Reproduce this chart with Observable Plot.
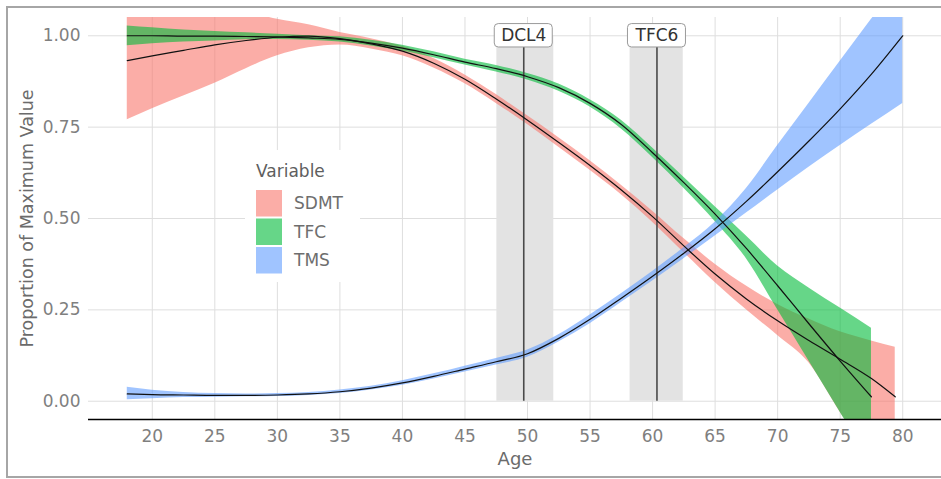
<!DOCTYPE html>
<html>
<head>
<meta charset="utf-8">
<script src="https://cdn.jsdelivr.net/npm/d3@7"></script>
<script src="https://cdn.jsdelivr.net/npm/@observablehq/plot@0.6"></script>
<style>
  body { margin: 0; background: #fff; }
  #wrap { position: relative; width: 941px; height: 479px; overflow: hidden; font-family: "DejaVu Sans", sans-serif; }
  #border { position: absolute; left: 6px; top: 6px; width: 950px; height: 472px; border: 2px solid #a6a6a6; box-sizing: border-box; }
  #wrap svg { position: absolute; left: 0; top: 0; }
</style>
</head>
<body>
<div id="wrap"><div id="border"></div></div>
<script>
// ---- data ----
const variables = ["SDMT", "TFC", "TMS"];
const colors = ["#F8766D", "#00BA38", "#619CFF"];

const sdmtAge = [18,20,22.5,25,27.5,30,32.5,35,37.5,40,42.5,45,47.5,50,52.5,55,57.5,60,62.5,65,67.5,70,72.5,75,77.5,79.4];
const sdmtFit = [0.932,0.945,0.960,0.975,0.987,0.996,0.999,0.992,0.978,0.958,0.925,0.881,0.827,0.769,0.708,0.645,0.578,0.505,0.425,0.348,0.280,0.220,0.166,0.115,0.062,0.012];
const sdmtLo  = [0.770,0.800,0.835,0.870,0.910,0.945,0.967,0.975,0.964,0.945,0.912,0.869,0.815,0.757,0.695,0.632,0.565,0.490,0.407,0.325,0.250,0.180,0.105,-0.030,-0.150,-0.220];
const sdmtHi  = [1.100,1.090,1.080,1.075,1.065,1.045,1.030,1.009,0.992,0.971,0.938,0.893,0.839,0.781,0.721,0.658,0.591,0.520,0.445,0.375,0.315,0.265,0.225,0.190,0.165,0.148];

const tfcAge = [18,20,22.5,25,27.5,30,32.5,35,37.5,40,42.5,45,47.5,50,52.5,55,57.5,60,62.5,65,67.5,70,72.5,75,77.5];
const tfcFit = [1.000,1.000,0.999,0.999,0.998,0.997,0.994,0.990,0.980,0.966,0.948,0.928,0.910,0.888,0.858,0.815,0.757,0.680,0.598,0.512,0.418,0.316,0.212,0.110,0.012];
const tfcLo  = [0.973,0.978,0.983,0.986,0.989,0.990,0.988,0.983,0.972,0.958,0.940,0.920,0.901,0.879,0.848,0.805,0.745,0.667,0.583,0.492,0.390,0.250,0.110,-0.030,-0.170];
const tfcHi  = [1.027,1.022,1.016,1.012,1.008,1.004,1.000,0.997,0.988,0.974,0.956,0.936,0.919,0.897,0.868,0.825,0.769,0.693,0.613,0.532,0.452,0.370,0.310,0.255,0.200];

const tmsAge = [18,20,22.5,25,27.5,30,32.5,35,37.5,40,42.5,45,47.5,50,52.5,55,57.5,60,62.5,65,67.5,70,72.5,75,77.5,80];
const tmsFit = [0.020,0.018,0.017,0.016,0.016,0.017,0.020,0.026,0.036,0.050,0.068,0.088,0.108,0.130,0.172,0.224,0.282,0.342,0.405,0.472,0.547,0.628,0.712,0.800,0.895,1.000];
const tmsLo  = [0.004,0.007,0.010,0.011,0.012,0.013,0.016,0.021,0.031,0.044,0.061,0.080,0.099,0.120,0.162,0.212,0.270,0.329,0.390,0.452,0.515,0.578,0.640,0.700,0.758,0.815];
const tmsHi  = [0.038,0.030,0.024,0.021,0.020,0.021,0.024,0.031,0.041,0.056,0.075,0.096,0.117,0.140,0.182,0.236,0.294,0.355,0.420,0.490,0.582,0.700,0.815,0.930,1.045,1.160];

const refLabels = ["DCL4", "TFC6"];
const refAge    = [49.7, 60.35];
const refLo     = [47.55, 58.2];
const refHi     = [52.1, 62.45];
const refLabelY = [1, 1];

const xTicks = [20,25,30,35,40,45,50,55,60,65,70,75,80];
const yTicks = [0, 0.25, 0.5, 0.75, 1];
const xDomain = [14.9, 83.1];
const yDomain = [-0.05, 1.05];

// ---- build tables ----
const series = [
  {name: "SDMT", age: sdmtAge, fit: sdmtFit, lo: sdmtLo, hi: sdmtHi},
  {name: "TFC",  age: tfcAge,  fit: tfcFit,  lo: tfcLo,  hi: tfcHi},
  {name: "TMS",  age: tmsAge,  fit: tmsFit,  lo: tmsLo,  hi: tmsHi}
];
const rows = series.flatMap(s => s.age.map((a, i) => ({variable: s.name, age: a, fit: s.fit[i], lo: s.lo[i], hi: s.hi[i]})));
const refs = refLabels.map((l, i) => ({label: l, age: refAge[i], lo: refLo[i], hi: refHi[i], y: refLabelY[i]}));

const font = "DejaVu Sans";
const plot = Plot.plot({
  width: 941,
  height: 479,
  marginLeft: 88,
  marginRight: 0,
  marginTop: 17,
  marginBottom: 60,
  style: {fontFamily: font, fontSize: "17px", color: "#7f7f7f", background: "transparent", overflow: "visible"},
  x: {domain: xDomain, label: null},
  y: {domain: yDomain, label: null},
  color: {domain: variables, range: colors},
  marks: [
    Plot.gridX(xTicks, {stroke: "#dedede", strokeOpacity: 1, strokeWidth: 1}),
    Plot.gridY(yTicks, {stroke: "#dedede", strokeOpacity: 1, strokeWidth: 1}),
    Plot.rect(refs, {x1: "lo", x2: "hi", y1: 0, y2: "y", fill: "#e3e3e3"}),
    Plot.areaY(rows, {x: "age", y1: "lo", y2: "hi", z: "variable", fill: "variable", fillOpacity: 0.6, curve: "monotone-x", clip: true}),
    Plot.ruleX(refs, {x: "age", y1: 0, y2: "y", stroke: "#4a4a4a", strokeWidth: 1.6}),
    Plot.line(rows, {x: "age", y: "fit", z: "variable", stroke: "#111", strokeWidth: 1.2, curve: "monotone-x", clip: true}),
    Plot.rect(refs, {x1: "age", x2: "age", y1: "y", y2: "y", insetLeft: -29, insetRight: -29, insetTop: -11.7, insetBottom: -11.7, rx: 4, fill: "white", stroke: "#9a9a9a", strokeWidth: 1}),
    Plot.text(refs, {x: "age", y: "y", text: "label", fill: "#333", fontSize: 17}),
    Plot.ruleY([yDomain[0]], {stroke: "#000", strokeWidth: 1.6}),
    Plot.axisX(xTicks, {tickSize: 0, tickPadding: 10, fontSize: 17, fill: "#7f7f7f"}),
    Plot.axisY(yTicks, {tickSize: 0, tickPadding: 8, fontSize: 17, fill: "#7f7f7f", tickFormat: d3.format(".2f")}),
    Plot.text(["Age"], {frameAnchor: "bottom", lineAnchor: "middle", textAnchor: "middle", dy: 40, fill: "#6b6b6b", fontSize: 18}),
    Plot.text(["Proportion of Maximum Value"], {frameAnchor: "left", lineAnchor: "middle", textAnchor: "middle", dx: -61, rotate: -90, fill: "#6b6b6b", fontSize: 17.5})
  ]
});
document.getElementById("wrap").appendChild(plot);

// ---- legend (inside panel, white box) ----
const lg = d3.select("#wrap").append("svg")
  .attr("width", 941).attr("height", 479)
  .style("pointer-events", "none");
const box = {x: 245, y: 150, w: 115, h: 132};
const g = lg.append("g").attr("transform", `translate(${box.x},${box.y})`);
g.append("rect").attr("width", box.w).attr("height", box.h).attr("fill", "white");
g.append("text").attr("x", 11).attr("y", 27).text("Variable")
  .attr("font-family", font).attr("font-size", 17).attr("fill", "#5e5e5e");
variables.forEach((v, i) => {
  const y0 = 40 + i * 28.5;
  g.append("rect").attr("x", 11).attr("y", y0).attr("width", 26).attr("height", 26.5)
    .attr("fill", colors[i]).attr("fill-opacity", 0.6);
  g.append("text").attr("x", 49).attr("y", y0 + 13.5).attr("dy", "0.35em").text(v)
    .attr("font-family", font).attr("font-size", 17).attr("fill", "#6e6e6e");
});
</script>
</body>
</html>
